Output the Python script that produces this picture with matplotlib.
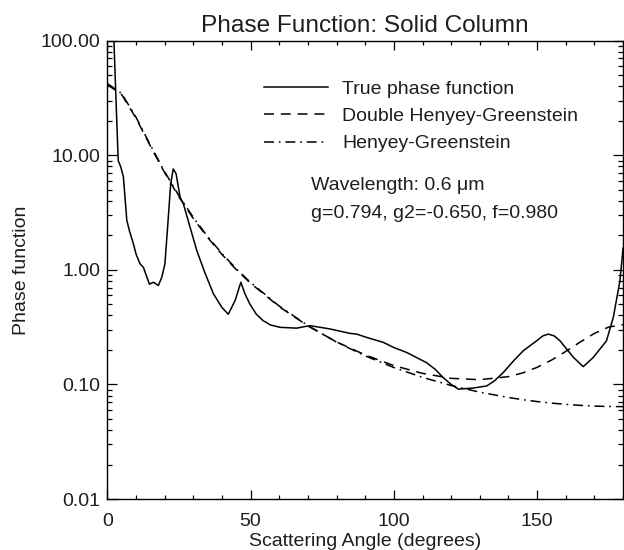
import numpy as np
import matplotlib
matplotlib.use('Agg')
from matplotlib import pyplot as plt
from matplotlib.ticker import MultipleLocator, FormatStrFormatter, NullFormatter, LogLocator

# True phase function
true_ang = [0, 1.5, 2.3, 3.0, 3.8, 4.7, 5.6, 6.8, 7.7, 9.1, 10.0, 11.4, 12.6, 14.7, 16.1,
            17.8, 19.0, 20.1, 21.3, 22.1, 23.0, 24.0, 25.4, 26.5, 29.0, 31.2, 34.0, 37.0,
            40.0, 42.2, 44.6, 46.6, 48.0, 49.8, 52.0, 54.4, 57.0, 60.3, 66.1, 70.7, 77.7,
            84.7, 87.0, 91.0, 96.3, 100.0, 104.5, 111.4, 114.5, 117.2, 120.0, 122.5, 127.7,
            132.4, 135.0, 138.2, 142.0, 145.2, 149.8, 152.0, 153.9, 156.0, 158.0, 162.7,
            166.1, 169.6, 174.2, 176.6, 178.9, 180.0]
true_val = [600, 180, 100, 32, 9.0, 7.9, 6.5, 2.7, 2.2, 1.69, 1.38, 1.13, 1.05, 0.75, 0.78,
            0.73, 0.86, 1.13, 2.9, 5.6, 7.6, 6.9, 4.3, 3.8, 2.3, 1.48, 0.95, 0.62,
            0.47, 0.41, 0.54, 0.78, 0.62, 0.50, 0.41, 0.36, 0.33, 0.315, 0.31, 0.326, 0.305,
            0.279, 0.275, 0.255, 0.233, 0.21, 0.19, 0.155, 0.135, 0.115, 0.100, 0.091, 0.093,
            0.097, 0.107, 0.127, 0.163, 0.197, 0.24, 0.265, 0.275, 0.265, 0.24, 0.172,
            0.143, 0.172, 0.24, 0.385, 0.8, 1.55]

# Fitted curves
fit_ang = [0, 5, 10, 15, 20, 25, 30, 35, 40, 45, 50, 60, 70, 80, 90, 100, 110, 120,
           130, 140, 145, 150, 155, 160, 165, 170, 175, 180]
dhg_val = [41.4, 33.9, 21.1, 12.07, 7.05, 4.33, 2.81, 1.917, 1.363, 1.005, 0.764, 0.477,
           0.324, 0.235, 0.181, 0.146, 0.125, 0.113, 0.110, 0.117, 0.126, 0.141, 0.163,
           0.194, 0.234, 0.279, 0.317, 0.332]
hg_val = [42.3, 34.6, 21.5, 12.32, 7.19, 4.42, 2.867, 1.953, 1.388, 1.022, 0.776, 0.483,
          0.326, 0.234, 0.1775, 0.1404, 0.1153, 0.0979, 0.0856, 0.0769, 0.0736, 0.0709,
          0.0687, 0.0670, 0.0657, 0.0647, 0.0642, 0.0640]

labels = ['True phase function', 'Double Henyey-Greenstein', 'Henyey-Greenstein']
info = ['Wavelength: 0.6 \u03bcm', 'g=0.794, g2=-0.650, f=0.980']

plt.rcParams['font.family'] = ['Liberation Sans', 'DejaVu Sans']
tc = '#1e1e1e'

fig = plt.figure(figsize=(6.24, 5.5), dpi=100)
ax = fig.add_axes([0.172, 0.0927, 0.8265, 0.8333])

ax.plot(true_ang, true_val, color='k', lw=1.1, label=labels[0])
ax.plot(fit_ang, dhg_val, color='k', lw=1.1, dashes=(6.5, 4.5), label=labels[1])
ax.plot(fit_ang, hg_val, color='k', lw=1.1, dashes=(6.5, 3.2, 1.1, 3.2), label=labels[2])

ax.set_yscale('log')
ax.set_xlim(0, 180)
ax.set_ylim(0.01, 100)

ax.xaxis.set_major_locator(MultipleLocator(50))
ax.xaxis.set_minor_locator(MultipleLocator(10))
ax.yaxis.set_major_locator(LogLocator(base=10))
ax.yaxis.set_minor_locator(LogLocator(base=10, subs=np.arange(2, 10)))
ax.yaxis.set_major_formatter(FormatStrFormatter('%.2f'))
ax.yaxis.set_minor_formatter(NullFormatter())

ax.tick_params(which='both', direction='in', top=True, right=True, colors='k',
               labelcolor=tc, labelsize=14)
ax.tick_params(axis='x', which='major', length=6.7, width=0.9, pad=10)
ax.tick_params(axis='x', which='minor', length=3.1, width=0.9)
ax.tick_params(axis='y', which='major', length=7.5, width=0.9, pad=5)
ax.tick_params(axis='y', which='minor', length=3.6, width=0.9)
for s in ax.spines.values():
    s.set_linewidth(1.0)

ax.set_title('Phase Function: Solid Column', fontsize=17.6, color=tc, pad=6)
ax.set_xlabel('Scattering Angle (degrees)', fontsize=14, color=tc, labelpad=2)
ax.set_ylabel('Phase function', fontsize=14, color=tc, labelpad=8)

leg = ax.legend(loc='upper left', bbox_to_anchor=(0.304, 0.914), frameon=False,
                fontsize=14, handlelength=3.3, handletextpad=0.7, labelspacing=0.5,
                borderpad=0, borderaxespad=0)
for t in leg.get_texts():
    t.set_color(tc)

ax.text(0.395, 0.685, info[0], transform=ax.transAxes, fontsize=14, color=tc, va='center')
ax.text(0.395, 0.624, info[1], transform=ax.transAxes, fontsize=14, color=tc, va='center')

fig.savefig('out.png', dpi=100)
